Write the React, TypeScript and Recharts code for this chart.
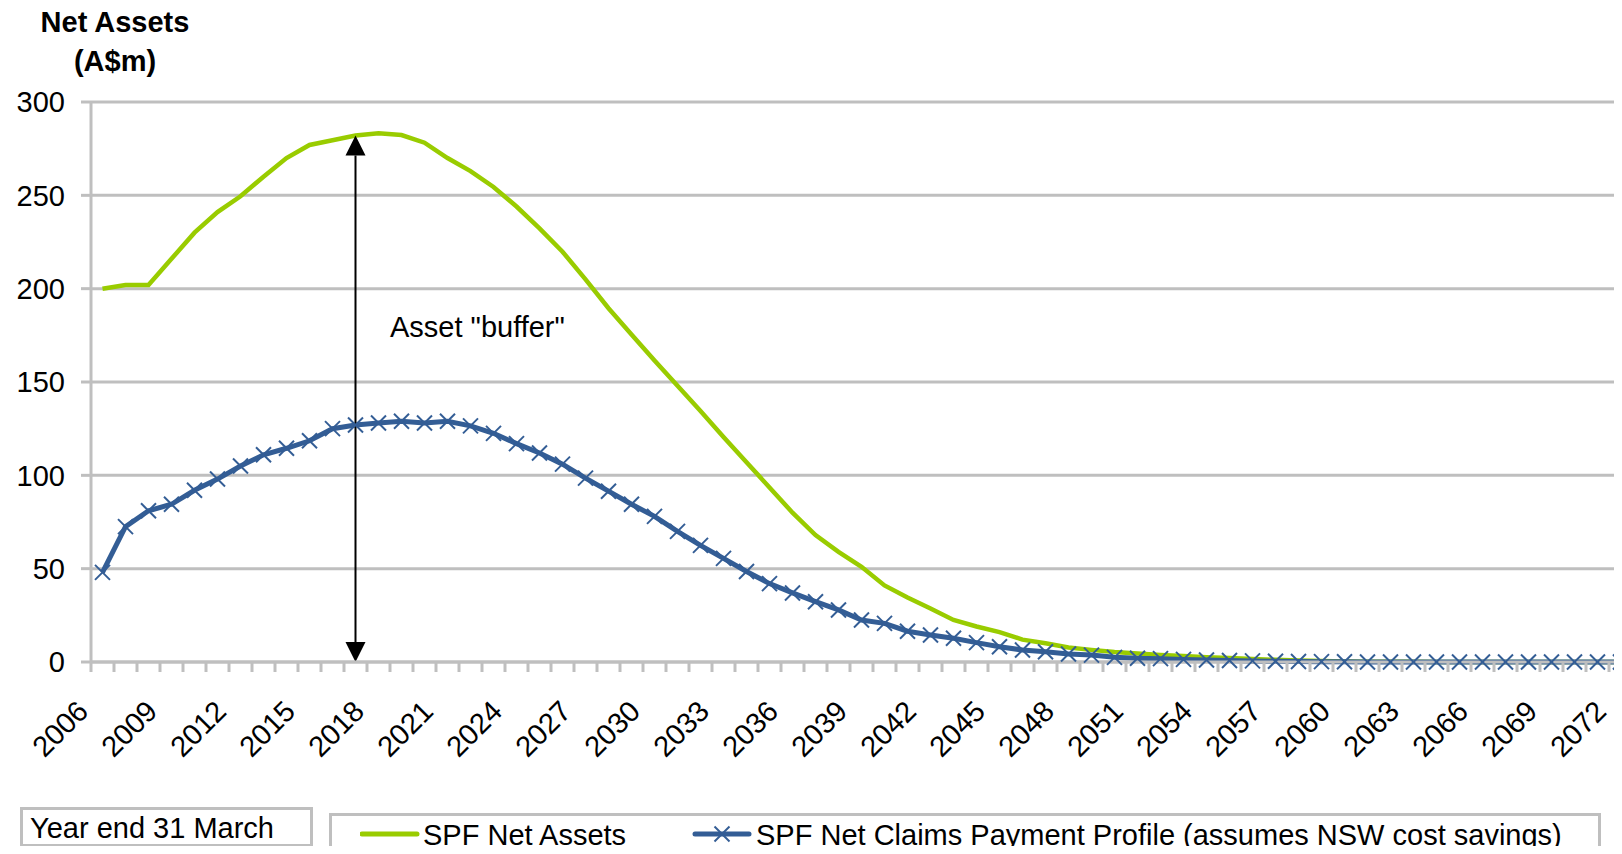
import React from 'react';
import { LineChart, Line, XAxis, YAxis, CartesianGrid, ReferenceLine } from 'recharts';

const years = [
  2006, 2007, 2008, 2009, 2010, 2011, 2012, 2013, 2014, 2015, 2016, 2017, 2018, 2019, 2020, 2021, 2022,
  2023, 2024, 2025, 2026, 2027, 2028, 2029, 2030, 2031, 2032, 2033, 2034, 2035, 2036, 2037, 2038, 2039,
  2040, 2041, 2042, 2043, 2044, 2045, 2046, 2047, 2048, 2049, 2050, 2051, 2052, 2053, 2054, 2055, 2056,
  2057, 2058, 2059, 2060, 2061, 2062, 2063, 2064, 2065, 2066, 2067, 2068, 2069, 2070, 2071, 2072,
];

// SPF Net Assets (A$m)
const netAssets = [
  200, 202, 202, 216, 230, 241, 249.5, 260, 270, 277, 279.5, 282, 283.2, 282.3, 278.2, 270, 263,
  254.5, 244, 232.3, 219.8, 205, 189.5, 175.5, 161.5, 148, 134.5, 120.5, 107, 93.5, 80, 68, 59, 51,
  41, 34.5, 28.7, 22.5, 19, 16, 12, 10, 7.8, 6.5, 5.3, 4.5, 3.8, 3.2, 2.6, 2.1, 1.6,
  1.2, 0.8, 0.5, 0.3, 0.2, 0.1, 0.1, 0, 0, 0, 0, 0, 0, 0, 0, 0,
];

// SPF Net Claims Payment Profile (A$m)
const claimsProfile = [
  48, 72.5, 81, 84.5, 92, 98, 105, 111, 114.5, 118.5, 125, 127, 128, 129, 128, 129, 126.5,
  122.5, 117, 112, 106, 98.5, 91.5, 84.5, 78, 70, 62.5, 55.5, 48.5, 42, 37, 32.3, 27.9, 22.5,
  20.7, 16.5, 14.5, 12.7, 10.4, 8.2, 6.4, 5.5, 4.3, 3.7, 2.5, 2.0, 1.8, 1.4, 1.1, 0.8, 0.6,
  0.4, 0.3, 0.2, 0.1, 0, 0, 0, 0, 0, 0, 0, 0, 0, 0, 0, 0,
];

const labelYears = [
  2006, 2009, 2012, 2015, 2018, 2021, 2024, 2027, 2030, 2033, 2036, 2039,
  2042, 2045, 2048, 2051, 2054, 2057, 2060, 2063, 2066, 2069, 2072,
];
const yTicks = [0, 50, 100, 150, 200, 250, 300];
const bufferYear = 2017;

const GREEN = '#99cc00';
const BLUE = '#335d95';
const GRID = '#bfbfbf';
const FONT = '"Liberation Sans", Arial, sans-serif';
const FS = 29;

const data = years.map((year, i) => ({ year, netAssets: netAssets[i], claims: claimsProfile[i] }));
// tick marks sit between the years, like a category axis
const boundaryTicks = [...years.map((y) => y - 0.5), years[years.length - 1] + 0.5];
const bufferTop = netAssets[years.indexOf(bufferYear)];

const CrossDot = ({ cx, cy }: any) => {
  if (cx == null || cy == null) return <g />;
  const s = 7.5;
  return (
    <g>
      <line x1={cx - s} y1={cy - s} x2={cx + s} y2={cy + s} stroke={BLUE} strokeWidth={2} />
      <line x1={cx - s} y1={cy + s} x2={cx + s} y2={cy - s} stroke={BLUE} strokeWidth={2} />
    </g>
  );
};

const YearTick = ({ x, y, payload }: any) => {
  const year = payload.value + 0.5;
  if (!labelYears.includes(year)) return <g />;
  const tx = x - 1;
  const ty = y + 41;
  return (
    <text
      x={tx}
      y={ty}
      transform={`rotate(-45 ${tx} ${ty})`}
      textAnchor="end"
      fontSize={FS}
      fontFamily={FONT}
      fill="#000"
    >
      {year}
    </text>
  );
};

const BufferArrow = (props: any) => {
  const { x1, y1, y2 } = props;
  const top = Math.min(y1, y2);
  const bottom = Math.max(y1, y2);
  const head = 20;
  const half = 10;
  return (
    <g>
      <line x1={x1} y1={top + head} x2={x1} y2={bottom - head} stroke="#000" strokeWidth={2} />
      <polygon points={`${x1},${top} ${x1 - half},${top + head} ${x1 + half},${top + head}`} fill="#000" />
      <polygon points={`${x1},${bottom} ${x1 - half},${bottom - head} ${x1 + half},${bottom - head}`} fill="#000" />
    </g>
  );
};

const txt: React.CSSProperties = {
  position: 'absolute',
  fontFamily: FONT,
  fontSize: FS,
  lineHeight: `${FS}px`,
  color: '#000',
  whiteSpace: 'nowrap',
};

const App: React.FC = () => {
  return (
    <div style={{ position: 'relative', width: 1622, height: 854, margin: -8, overflow: 'hidden', background: '#fff', fontFamily: FONT }}>
      <LineChart width={1660} height={854} data={data} margin={{ top: 102, right: 28, bottom: 92, left: 0 }}>
        <CartesianGrid vertical={false} stroke={GRID} strokeWidth={3} />
        <XAxis
          dataKey="year"
          type="number"
          domain={[boundaryTicks[0], boundaryTicks[boundaryTicks.length - 1]]}
          ticks={boundaryTicks}
          interval={0}
          height={100}
          tick={<YearTick />}
          tickSize={10}
          tickMargin={0}
          tickLine={{ stroke: GRID, strokeWidth: 3 }}
          axisLine={{ stroke: GRID, strokeWidth: 3 }}
        />
        <YAxis
          type="number"
          domain={[0, 300]}
          ticks={yTicks}
          interval={0}
          width={91}
          tick={{ fill: '#000', fontSize: FS, fontFamily: FONT }}
          tickSize={10}
          tickMargin={16}
          tickLine={{ stroke: GRID, strokeWidth: 3 }}
          axisLine={{ stroke: GRID, strokeWidth: 3 }}
        />
        <Line
          type="linear"
          dataKey="netAssets"
          stroke={GREEN}
          strokeWidth={4.5}
          dot={false}
          activeDot={false}
          isAnimationActive={false}
        />
        <Line
          type="linear"
          dataKey="claims"
          stroke={BLUE}
          strokeWidth={5}
          dot={<CrossDot />}
          activeDot={false}
          isAnimationActive={false}
        />
        <ReferenceLine
          segment={[{ x: bufferYear, y: 0 }, { x: bufferYear, y: bufferTop }]}
          shape={BufferArrow}
          ifOverflow="visible"
        />
      </LineChart>

      {/* y axis title */}
      <div style={{ ...txt, left: 0, width: 230, top: 7.5, textAlign: 'center', fontWeight: 'bold' }}>Net Assets</div>
      <div style={{ ...txt, left: 0, width: 230, top: 46.5, textAlign: 'center', fontWeight: 'bold' }}>(A$m)</div>

      {/* annotation */}
      <div style={{ ...txt, left: 390, top: 312.5 }}>Asset "buffer"</div>

      {/* x axis note */}
      <div style={{ position: 'absolute', left: 20, top: 807, width: 293, height: 40, border: `3px solid ${GRID}`, boxSizing: 'border-box' }} />
      <div style={{ ...txt, left: 30, top: 813.5 }}>Year end 31 March</div>

      {/* legend */}
      <div style={{ position: 'absolute', left: 329, top: 813, width: 1272, height: 60, border: `3px solid ${GRID}`, boxSizing: 'border-box' }} />
      <svg style={{ position: 'absolute', left: 360, top: 822 }} width={60} height={24}>
        <line x1={2} y1={12} x2={57} y2={12} stroke={GREEN} strokeWidth={5} strokeLinecap="round" />
      </svg>
      <div style={{ ...txt, left: 423, top: 820.5 }}>SPF Net Assets</div>
      <svg style={{ position: 'absolute', left: 692, top: 822 }} width={60} height={24}>
        <line x1={3} y1={12} x2={57} y2={12} stroke={BLUE} strokeWidth={5} strokeLinecap="round" />
        <line x1={22.5} y1={4.5} x2={37.5} y2={19.5} stroke={BLUE} strokeWidth={2} />
        <line x1={22.5} y1={19.5} x2={37.5} y2={4.5} stroke={BLUE} strokeWidth={2} />
      </svg>
      <div style={{ ...txt, left: 756, top: 820.5 }}>SPF Net Claims Payment Profile (assumes NSW cost savings)</div>
    </div>
  );
};

export default App;
